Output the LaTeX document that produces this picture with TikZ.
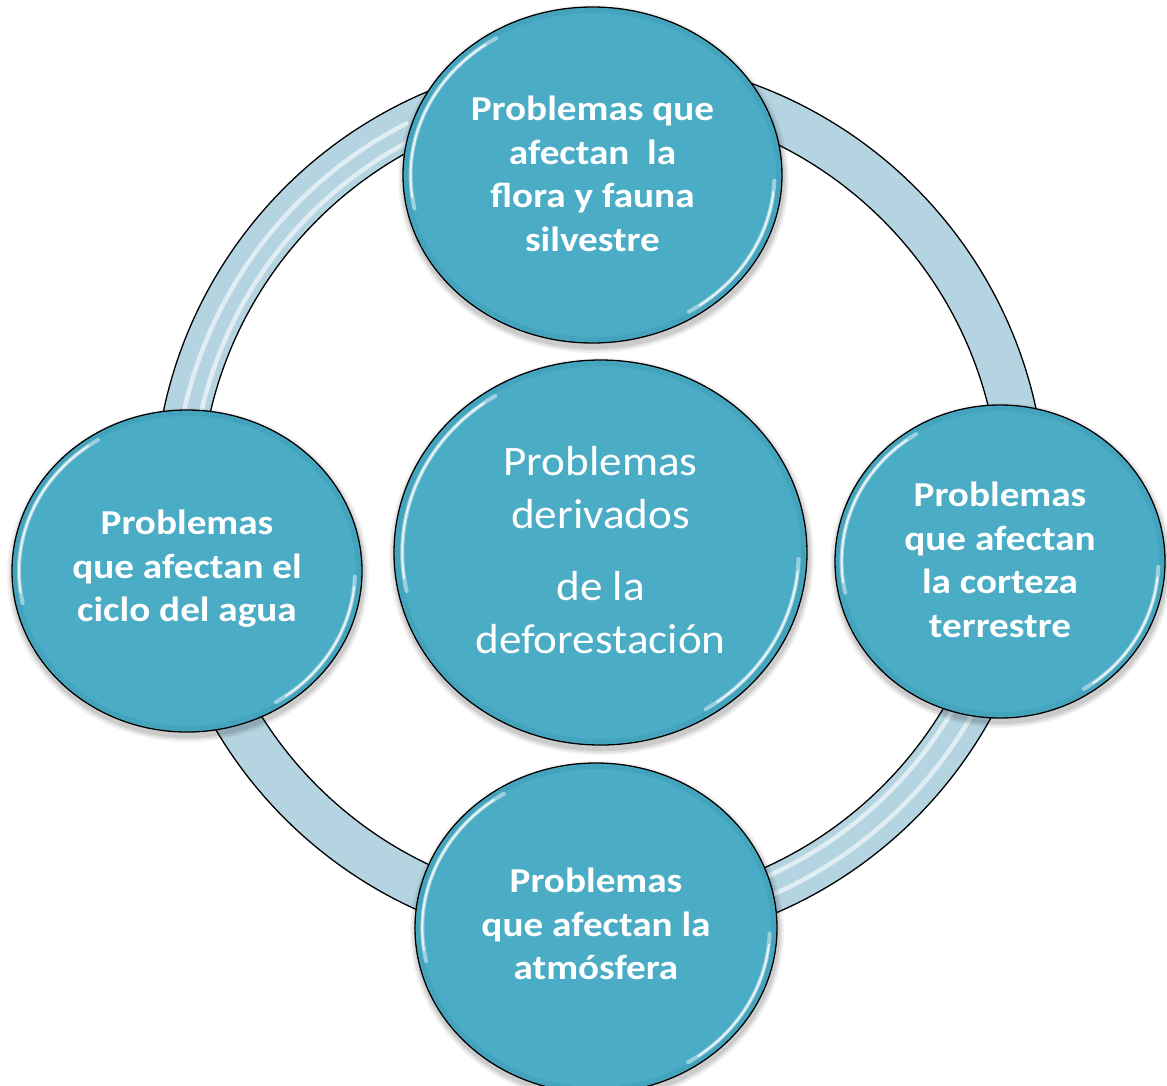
\documentclass[tikz,border=0pt]{standalone}
\usepackage{fontspec}
\setmainfont{Carlito}
\newfontfamily\satfont{Carlito}[FakeStretch=1.12]
\newfontfamily\centfont{Carlito}[FakeStretch=1.075]
\usetikzlibrary{shapes.geometric}
\definecolor{aqua}{HTML}{4BACC6}
\definecolor{ringblue}{HTML}{B3D4E0}
\definecolor{rimdark}{HTML}{3B97AF}

\newcommand\bubbleshadow[4]{%
  \foreach \k/\op in {6/0.05,4/0.07,2/0.09}{%
    \fill[black, opacity=\op] ({#1+1},{#2+4}) ellipse[x radius={#3+\k}, y radius={#4+\k}];
  }%
}
\newcommand\bubblegloss[4]{%
  \draw[rimdark, opacity=0.35, line width=5pt] (#1,#2) ellipse[x radius={#3-3.5}, y radius={#4-3.5}];
  \draw[white, opacity=0.45, line width=4pt, line cap=round]
    (#1,#2) ++(168:{#3*0.96} and {#4*0.96})
    arc[start angle=168, end angle=238, x radius={#3*0.96}, y radius={#4*0.96}];
  \draw[white, opacity=0.8, line width=1.8pt, line cap=round]
    (#1,#2) ++(172:{#3*0.96} and {#4*0.96})
    arc[start angle=172, end angle=234, x radius={#3*0.96}, y radius={#4*0.96}];
  \draw[white, opacity=0.45, line width=4pt, line cap=round]
    (#1,#2) ++(2:{#3*0.96} and {#4*0.96})
    arc[start angle=2, end angle=58, x radius={#3*0.96}, y radius={#4*0.96}];
  \draw[white, opacity=0.8, line width=1.8pt, line cap=round]
    (#1,#2) ++(6:{#3*0.96} and {#4*0.96})
    arc[start angle=6, end angle=54, x radius={#3*0.96}, y radius={#4*0.96}];
}

\tikzset{
  bubble/.style={ellipse, draw=black, line width=1.3pt, fill=aqua, inner sep=0pt,
    text=white, align=center},
  sattext/.style={font=\satfont\fontsize{35}{43.5}\selectfont\bfseries},
  centertext/.style={font=\centfont\fontsize{42}{53}\selectfont},
  ringstripe/.style={white, opacity=0.6, line width=4.5pt, line cap=round},
}

\begin{document}
\begin{tikzpicture}[x=1pt, y=-1pt]
\useasboundingbox (0,0) rectangle (1167,1085);
\fill[white] (0,0) rectangle (1167,1085);

% ring
\coordinate (ringc) at (600,503);
\fill[ringblue, even odd rule] (ringc) circle[radius=446] (ringc) circle[radius=400];
\draw[ringstripe] (ringc) ++(192:409) arc[start angle=192, end angle=243, radius=409];
\draw[ringstripe] (ringc) ++(192:426) arc[start angle=192, end angle=243, radius=426];
\draw[ringstripe] (ringc) ++(28:409) arc[start angle=28, end angle=66, radius=409];
\draw[ringstripe] (ringc) ++(28:428) arc[start angle=28, end angle=66, radius=428];
\draw[black, line width=1.3pt] (ringc) circle[radius=446];
\draw[black, line width=1.3pt] (ringc) circle[radius=400];

% top
\bubbleshadow{592.5}{175}{189.5}{168}
\node[bubble, minimum width=379pt, minimum height=336pt] (top) at (592.5,175) {};
\bubblegloss{592.5}{175}{189.5}{168}
\node[sattext, text=white, align=center] (toptext) at (592.5,174)
  {Problemas que\\afectan\ \ la\\flora y fauna\\silvestre};

% left
\bubbleshadow{187}{571}{175}{161}
\node[bubble, minimum width=350pt, minimum height=322pt] (left) at (187,571) {};
\bubblegloss{187}{571}{175}{161}
\node[sattext, text=white, align=center] (lefttext) at (187,569)
  {Problemas\\que afectan el\\ciclo del agua};

% right
\bubbleshadow{1000}{561.5}{165}{156.5}
\node[bubble, minimum width=330pt, minimum height=313pt] (right) at (1000,561.5) {};
\bubblegloss{1000}{561.5}{165}{156.5}
\node[sattext, text=white, align=center] (righttext) at (1000,560)
  {Problemas\\que afectan\\la corteza\\terrestre};

% bottom
\bubbleshadow{596}{928}{181}{165}
\node[bubble, minimum width=362pt, minimum height=330pt] (bottom) at (596,928) {};
\bubblegloss{596}{928}{181}{165}
\node[sattext, text=white, align=center] (bottomtext) at (596,924)
  {Problemas\\que afectan la\\atmósfera};

% center
\bubbleshadow{600.5}{552.5}{206.5}{192.5}
\node[bubble, minimum width=413pt, minimum height=385pt] (center) at (600.5,552.5) {};
\bubblegloss{600.5}{552.5}{206.5}{192.5}
\node[centertext, text=white, align=center] (centertextnode) at (600.5,550)
  {Problemas\\derivados\\[19pt]de la\\deforestación};
\end{tikzpicture}
\end{document}
